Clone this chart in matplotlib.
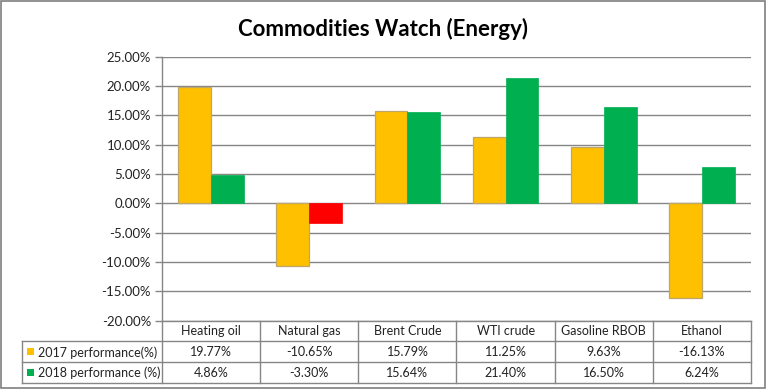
import matplotlib
matplotlib.use("Agg")
import matplotlib.pyplot as plt
from matplotlib.patches import Rectangle
import numpy as np

categories = ["Heating oil", "Natural gas", "Brent Crude", "WTI crude", "Gasoline RBOB", "Ethanol"]
perf_2017 = [19.77, -10.65, 15.79, 11.25, 9.63, -16.13]
perf_2018 = [4.86, -3.30, 15.64, 21.40, 16.50, 6.24]
series_names = ["2017 performance(%)", "2018 performance (%)"]
yticks = [-20, -15, -10, -5, 0, 5, 10, 15, 20, 25]

plt.rcParams['font.family'] = ['Lato', 'DejaVu Sans']

W, H = 767, 390
fig = plt.figure(figsize=(W / 100, H / 100), dpi=100)
fig.patch.set_facecolor("white")

ax_left, ax_right, ax_top, ax_bot = 162, 751, 56.8, 320.5
ax = fig.add_axes([ax_left / W, (H - ax_bot) / H, (ax_right - ax_left) / W, (ax_bot - ax_top) / H])

c17 = "#FFC000"
c18_pos = "#00B050"
c18_neg = "#FF0000"
grid_c = "#868686"

x = np.arange(len(categories))
bw = 0.335
ax.bar(x - bw / 2, perf_2017, width=bw, color=c17, edgecolor="#BFA66A", linewidth=0.9, zorder=3)
cols18 = [c18_pos if v >= 0 else c18_neg for v in perf_2018]
ax.bar(x + bw / 2, perf_2018, width=bw, color=cols18, edgecolor=cols18, linewidth=0.5, zorder=3)

ax.set_xlim(-0.5, len(categories) - 0.5)
ax.set_ylim(-20, 25)
ax.set_yticks(yticks)
ax.set_yticklabels([f"{v:.2f}%" for v in yticks], fontsize=9.5, color="#222222")
ax.yaxis.grid(True, color=grid_c, linewidth=1.0, zorder=0)
ax.set_xticks([])
for s in ["top", "right", "bottom"]:
    ax.spines[s].set_visible(False)
ax.spines["left"].set_color(grid_c)
ax.spines["left"].set_linewidth(1.0)
ax.tick_params(axis="y", length=5, color=grid_c, width=1.0, pad=3)

fig.text(0.5, 1 - 29 / H, "Commodities Watch (Energy)", ha="center", va="center",
         fontsize=16, fontweight="bold", color="black")

# overlay for table in pixel coordinates
ov = fig.add_axes([0, 0, 1, 1], zorder=5)
ov.set_xlim(0, W)
ov.set_ylim(H, 0)
ov.axis("off")
ov.patch.set_alpha(0)

def px_x(xd):
    disp = ax.transData.transform((xd, 0))
    return disp[0]

fig.canvas.draw()
bounds = [px_x(i - 0.5) for i in range(len(categories) + 1)]
row_y = [ax_bot, 341.3, 362.2, 383.0]
leg_left = 22
lc = grid_c
lw = 1.0

ov.plot([bounds[0], bounds[-1]], [row_y[0], row_y[0]], color=lc, lw=lw)
for yy in row_y[1:]:
    ov.plot([leg_left, bounds[-1]], [yy, yy], color=lc, lw=lw)
for b in bounds:
    ov.plot([b, b], [row_y[0], row_y[-1]], color=lc, lw=lw)
ov.plot([leg_left, leg_left], [row_y[1], row_y[-1]], color=lc, lw=lw)

for i, cat in enumerate(categories):
    cx = (bounds[i] + bounds[i + 1]) / 2
    ov.text(cx, (row_y[0] + row_y[1]) / 2 + 0.5, cat, ha="center", va="center", fontsize=9, color="#222222")

rows = [perf_2017, perf_2018]
leg_cols = [c17, c18_pos]
for r, vals in enumerate(rows):
    yc = (row_y[r + 1] + row_y[r + 2]) / 2 + 0.5
    for i, v in enumerate(vals):
        cx = (bounds[i] + bounds[i + 1]) / 2
        ov.text(cx, yc, f"{v:.2f}%", ha="center", va="center", fontsize=9, color="#222222")
    ov.add_patch(Rectangle((leg_left + 5, yc - 4), 7, 7, facecolor=leg_cols[r], edgecolor="none"))
    ov.text(leg_left + 16, yc, series_names[r], ha="left", va="center", fontsize=9, color="#222222")

ov.add_patch(Rectangle((1, 1), W - 3, H - 3, facecolor="none", edgecolor="#7F7F7F", lw=1.2))

fig.savefig("out.png", dpi=100, facecolor="white")
